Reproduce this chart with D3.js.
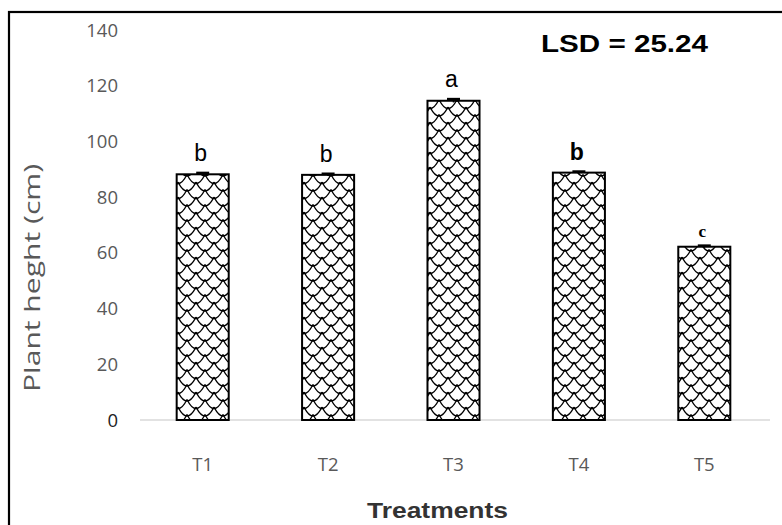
<!DOCTYPE html>
<html><head><meta charset="utf-8">
<script src="https://cdn.jsdelivr.net/npm/d3@7"></script>
<style>body{margin:0;background:#fff;overflow:hidden}</style></head>
<body><svg id="c" width="782" height="525"></svg>
<script>
const categories = ["T1","T2","T3","T4","T5"];
const values = [88.2, 88.0, 114.6, 88.8, 62.2];
const errors = [0.5, 0.4, 0.6, 0.4, 0.4];
const letters = ["b","b","a","b","c"];
const yTicks = [0,20,40,60,80,100,120,140];
const yTitle = "Plant  heght (cm)";
const xTitle = "Treatments";
const note = "LSD = 25.24";

const svg = d3.select("#c");
// border
svg.append("rect").attr("x",9).attr("y",12).attr("width",800).attr("height",600)
  .attr("fill","none").attr("stroke","#000").attr("stroke-width",2.2);

// pattern (scale / shingle)
const defs = svg.append("defs");
const W = 18, H = 15;
const pat = defs.append("pattern").attr("id","scale").attr("patternUnits","userSpaceOnUse")
  .attr("width",W).attr("height",H).attr("x",178).attr("y",2);
pat.append("rect").attr("width",W).attr("height",H).attr("fill","#fff");
function smile(x0,y0){
  pat.append("path").attr("d",`M${x0},${y0}Q${x0+W/2},${y0+18} ${x0+W},${y0}`)
    .attr("stroke","#000").attr("stroke-width",1.35).attr("fill","none");
}
[-H,0,H].forEach(dy=>{
  [-W,0].forEach(dx=>smile(dx,dy));
  [-W/2,W/2,-3*W/2].forEach(dx=>smile(dx,dy+H/2));
});

const x = d3.scaleBand().domain(categories).range([140,767]).paddingInner(0.585).paddingOuter(0.2925);
const y = d3.scaleLinear().domain([0,140]).range([420,30]);

// axis baseline
svg.append("line").attr("x1",140).attr("x2",770).attr("y1",y(0)).attr("y2",y(0))
  .attr("stroke","#d9d9d9").attr("stroke-width",1.5);

const tickFont = "'Open Sans', 'Noto Sans', sans-serif";
// y tick labels
svg.append("g").selectAll("text").data(yTicks).join("text")
  .attr("x",118).attr("y",d=>y(d)+6.5).attr("text-anchor","end")
  .attr("font-family",tickFont).attr("font-size",18.5)
  .attr("fill",d=>d===0?"#222":"#595959").text(d=>d);

// x tick labels
svg.append("g").selectAll("text").data(categories).join("text")
  .attr("x",d=>x(d)+x.bandwidth()/2).attr("y",471).attr("text-anchor","middle")
  .attr("font-family",tickFont).attr("font-size",18.5)
  .attr("fill","#595959").text(d=>d);

// bars
svg.append("g").selectAll("rect").data(values).join("rect")
  .attr("x",(d,i)=>x(categories[i])).attr("width",x.bandwidth())
  .attr("y",d=>y(d)).attr("height",d=>y(0)-y(d))
  .attr("fill","url(#scale)").attr("stroke","#000").attr("stroke-width",2);

// error bars
const eb = svg.append("g").attr("stroke","#000").attr("stroke-width",2.5);
values.forEach((v,i)=>{
  const cx = x(categories[i])+x.bandwidth()/2;
  eb.append("line").attr("x1",cx).attr("x2",cx).attr("y1",y(v+errors[i])).attr("y2",y(v-errors[i])).attr("stroke-width",1.5);
  eb.append("line").attr("x1",cx-6.5).attr("x2",cx+6.5).attr("y1",y(v+errors[i])).attr("y2",y(v+errors[i]));
});

// letters
svg.append("g").selectAll("text").data(letters).join("text")
  .attr("x",(d,i)=>x(categories[i])+x.bandwidth()/2-2)
  .attr("y",(d,i)=>y(values[i]+errors[i])-(i===4?9:12))
  .attr("text-anchor","middle")
  .attr("font-family",(d,i)=>i===4?"'Liberation Serif', serif":"'Liberation Sans', Arial, sans-serif")
  .attr("font-weight",(d,i)=>i>=3?"bold":"normal")
  .attr("font-size",(d,i)=>i===4?17:23)
  .attr("fill","#000").text(d=>d);

// LSD note
svg.append("text").attr("x",541).attr("y",52)
  .attr("font-family","'Liberation Sans', Arial, sans-serif").attr("font-weight","bold")
  .attr("font-size",23).attr("textLength",167).attr("lengthAdjust","spacingAndGlyphs")
  .attr("fill","#000").text(note);

// axis titles
svg.append("text").attr("transform","translate(40,278) rotate(-90)").attr("text-anchor","middle")
  .attr("font-family",tickFont).attr("font-size",21)
  .attr("textLength",228).attr("lengthAdjust","spacingAndGlyphs")
  .attr("fill","#595959").text(yTitle);

svg.append("text").attr("x",367).attr("y",518)
  .attr("font-family","'Liberation Sans', Arial, sans-serif").attr("font-weight","bold")
  .attr("font-size",22).attr("textLength",141).attr("lengthAdjust","spacingAndGlyphs")
  .attr("fill","#333").text(xTitle);
</script></body></html>
